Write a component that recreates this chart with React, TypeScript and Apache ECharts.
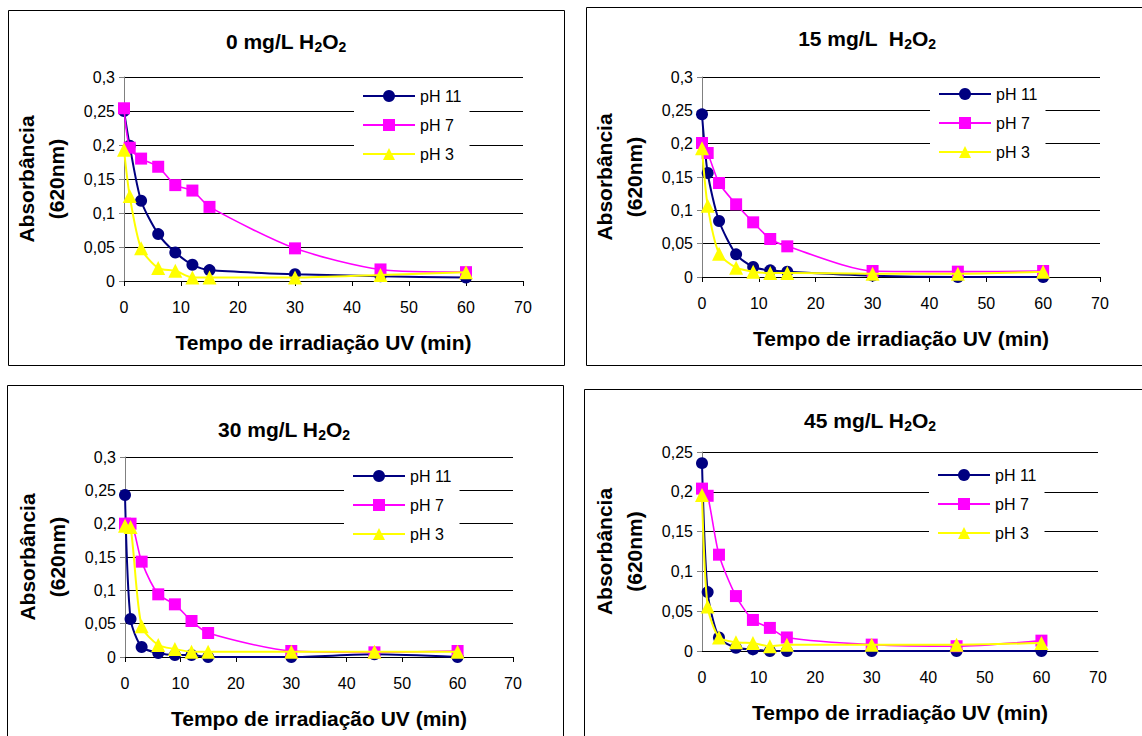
import React, { useEffect, useRef } from 'react';
import * as echarts from 'echarts';

// ---------------- data ----------------
const timeMin = [0, 1, 3, 6, 9, 12, 15, 30, 45, 60];
const seriesNames = ['pH 11', 'pH 7', 'pH 3'];
const titlePrefixes = ['0 mg/L H', '15 mg/L  H', '30 mg/L H', '45 mg/L H'];
const xAxisTitle = 'Tempo de irradiação UV (min)';
const yAxisTitle = 'Absorbância\n(620nm)';
const yMaxima = [0.3, 0.3, 0.3, 0.25];

// 0 mg/L H2O2
const h0_pH11 = [0.25, 0.199, 0.118, 0.069, 0.042, 0.024, 0.016, 0.01, 0.007, 0.005];
const h0_pH7 = [0.254, 0.196, 0.18, 0.168, 0.141, 0.133, 0.109, 0.048, 0.017, 0.013];
const h0_pH3 = [0.193, 0.125, 0.048, 0.019, 0.015, 0.005, 0.005, 0.005, 0.009, 0.013];

// 15 mg/L H2O2
const h15_pH11 = [0.244, 0.156, 0.084, 0.034, 0.015, 0.01, 0.008, 0.002, 0, 0];
const h15_pH7 = [0.201, 0.186, 0.141, 0.109, 0.082, 0.057, 0.046, 0.009, 0.008, 0.009];
const h15_pH3 = [0.193, 0.107, 0.035, 0.014, 0.008, 0.006, 0.006, 0.005, 0.005, 0.008];

// 30 mg/L H2O2
const h30_pH11 = [0.243, 0.057, 0.015, 0.006, 0.003, 0.003, 0, 0, 0.004, 0];
const h30_pH7 = [0.2, 0.2, 0.143, 0.094, 0.079, 0.054, 0.036, 0.009, 0.007, 0.009];
const h30_pH3 = [0.197, 0.195, 0.046, 0.018, 0.012, 0.008, 0.008, 0.008, 0.008, 0.008];

// 45 mg/L H2O2
const h45_pH11 = [0.236, 0.074, 0.017, 0.004, 0.002, 0, 0, 0, 0, 0];
const h45_pH7 = [0.204, 0.195, 0.121, 0.069, 0.039, 0.029, 0.017, 0.008, 0.006, 0.013];
const h45_pH3 = [0.196, 0.056, 0.017, 0.011, 0.01, 0.006, 0.008, 0.008, 0.008, 0.01];

const panelData = [
  [h0_pH11, h0_pH7, h0_pH3],
  [h15_pH11, h15_pH7, h15_pH3],
  [h30_pH11, h30_pH7, h30_pH3],
  [h45_pH11, h45_pH7, h45_pH3],
];

// ---------------- styling / layout ----------------
const FONT = '"Liberation Sans", Arial, Helvetica, sans-serif';
const seriesStyle = [
  { color: '#000080', symbol: 'circle', size: 12, width: 2 },
  { color: '#FF00FF', symbol: 'rect', size: 12, width: 1.6 },
  { color: '#FFFF00', symbol: 'triangle', size: 14, width: 2 },
];

const layout = [
  { box: [8, 10, 556, 355], grid: [124, 77, 399, 204], title: [286, 41], legend: [354, 83], xTicks: true },
  { box: [586, 7, 570, 358], grid: [702, 77, 398, 200], title: [867, 38], legend: [930, 81], xTicks: true },
  { box: [7, 385, 556, 360], grid: [125, 457, 388, 200], title: [284, 429], legend: [344, 463], xTicks: true },
  { box: [584, 389, 580, 360], grid: [702, 452, 396, 199], title: [870, 420], legend: [929, 462], xTicks: false },
];

const yFormatter = (v: number) => {
  if (v === 0) return '0';
  return String(Math.round(v * 100) / 100).replace('.', ',');
};

function buildOption(): any {
  const grid = layout.map((p) => ({
    left: p.grid[0],
    top: p.grid[1],
    width: p.grid[2],
    height: p.grid[3],
    containLabel: false,
  }));

  const xAxis = layout.map((p, i) => ({
    type: 'value',
    gridIndex: i,
    min: 0,
    max: 70,
    interval: 10,
    axisLine: { show: true, onZero: false, lineStyle: { color: '#000', width: 1 } },
    axisTick: { show: p.xTicks, length: 5, lineStyle: { color: '#000' } },
    axisLabel: { margin: 18, fontSize: 16, color: '#000', fontFamily: FONT },
    splitLine: { show: false },
    name: xAxisTitle,
    nameLocation: 'middle',
    nameGap: 51,
    nameTextStyle: { fontSize: 21, fontWeight: 'bold', color: '#000', fontFamily: FONT },
  }));

  const yAxis = layout.map((p, i) => ({
    type: 'value',
    gridIndex: i,
    min: 0,
    max: yMaxima[i],
    interval: 0.05,
    axisLine: { show: true, lineStyle: { color: '#808080', width: 1 } },
    axisTick: { show: true, length: 5, lineStyle: { color: '#808080' } },
    axisLabel: { margin: 9, fontSize: 16, color: '#000', fontFamily: FONT, formatter: yFormatter },
    splitLine: { show: true, lineStyle: { color: '#000', width: 1 } },
    name: yAxisTitle,
    nameLocation: 'middle',
    nameRotate: 90,
    nameGap: 53,
    nameTextStyle: { fontSize: 21, fontWeight: 'bold', lineHeight: 30, color: '#000', fontFamily: FONT },
  }));

  const series: any[] = [];
  panelData.forEach((sets, i) => {
    sets.forEach((vals, j) => {
      const st = seriesStyle[j];
      series.push({
        type: 'line',
        name: seriesNames[j],
        xAxisIndex: i,
        yAxisIndex: i,
        data: timeMin.map((t, k) => [t, vals[k]]),
        symbol: st.symbol,
        symbolSize: st.size,
        showSymbol: true,
        smooth: 0.25,
        lineStyle: { color: st.color, width: st.width },
        itemStyle: { color: st.color, borderWidth: 0 },
        z: 2 + j,
      });
    });
  });

  const legend = layout.map((p) => ({
    data: seriesNames,
    orient: 'vertical',
    left: p.legend[0],
    top: p.legend[1],
    itemWidth: 52,
    itemHeight: 15,
    itemGap: 13,
    backgroundColor: '#fff',
    padding: [5, 8, 5, 8],
    selectedMode: false,
    textStyle: { fontSize: 16, color: '#000', fontFamily: FONT },
  }));

  const graphic: any[] = [];
  layout.forEach((p) => {
    graphic.push({
      type: 'rect',
      silent: true,
      shape: { x: p.box[0] + 0.5, y: p.box[1] + 0.5, width: p.box[2], height: p.box[3] },
      style: { fill: 'none', stroke: '#000', lineWidth: 1 },
    });
  });
  layout.forEach((p, i) => {
    graphic.push({
      type: 'text',
      silent: true,
      x: p.title[0],
      y: p.title[1],
      style: {
        text: titlePrefixes[i] + '{sub|2}O{sub|2}',
        fontSize: 21,
        fontWeight: 'bold',
        fontFamily: FONT,
        fill: '#000',
        align: 'center',
        verticalAlign: 'middle',
        rich: {
          sub: {
            fontSize: 14,
            fontWeight: 'bold',
            fontFamily: FONT,
            fill: '#000',
            padding: [12, 0, 0, 0],
          },
        },
      },
    });
  });

  return {
    animation: false,
    backgroundColor: '#fff',
    grid,
    xAxis,
    yAxis,
    series,
    legend,
    graphic,
  };
}

export default function App() {
  const ref = useRef<HTMLDivElement>(null);
  useEffect(() => {
    if (!ref.current) return;
    const chart = echarts.init(ref.current, null, { renderer: 'svg' });
    chart.setOption(buildOption());
    return () => chart.dispose();
  }, []);
  return (
    <div
      ref={ref}
      style={{ position: 'absolute', left: 0, top: 0, width: 1142, height: 736, background: '#fff' }}
    />
  );
}
